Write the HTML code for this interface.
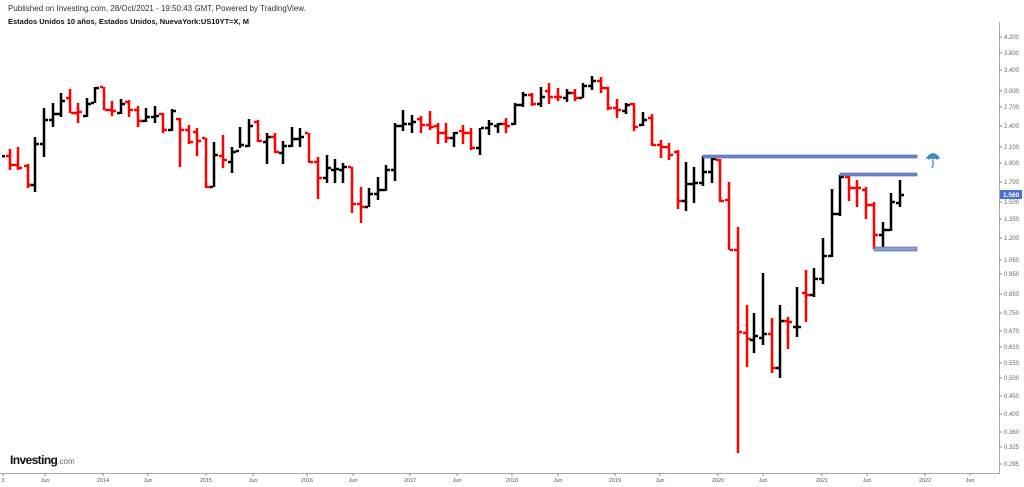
<!DOCTYPE html>
<html><head><meta charset="utf-8"><style>
html,body{margin:0;padding:0;background:#fff;}
body{width:1024px;height:487px;overflow:hidden;position:relative;font-family:"Liberation Sans",sans-serif;}
.h1{position:absolute;left:8px;top:4px;font-size:8px;color:#333;}
.h2{position:absolute;left:8px;top:17px;font-size:7.5px;color:#111;font-weight:bold;}
.logo{position:absolute;left:10px;top:453px;font-size:12px;font-weight:bold;color:#111;letter-spacing:-0.6px;}
.logo span{font-size:8px;font-weight:normal;color:#666;letter-spacing:0;}
svg{position:absolute;left:0;top:0;}
</style></head><body>
<div class="h1">Published on Investing.com, 28/Oct/2021 - 19:50:43 GMT, Powered by TradingView.</div>
<div class="h2">Estados Unidos 10 años, Estados Unidos, NuevaYork:US10YT=X, M</div>
<svg id="s" width="1024" height="487" xmlns="http://www.w3.org/2000/svg"></svg>
<div class="logo">Investing<span>.com</span></div>
<script>
var s=document.getElementById('s'),h='';
var B=[
[10,'R',149,170,156,165],[18,'R',147,170,165,168],[28,'R',164,188,166,185],[35,'B',137,192,185,144],
[44,'B',108,157,144,120],[53,'B',103,127,120,114],[61,'B',93,117,114,101],[70,'R',89,113,98,113],
[78,'R',103,123,113,112],[87,'B',98,117,116,104],[95,'B',87,103,103,88],[104,'R',87,110,87,110],
[112,'R',101,116,110,111],[121,'B',99,114,113,104],[129,'R',100,117,102,110],[138,'R',106,127,110,121],
[146,'B',108,122,121,117],[155,'B',106,123,117,116],[163,'R',113,133,114,130],[172,'B',109,131,130,111],
[180,'R',118,167,119,130],[189,'R',125,144,130,142],[197,'R',128,156,132,141],[206,'R',138,188,138,187],
[214,'B',142,187,187,155],[223,'R',135,168,156,160],[232,'B',147,173,162,152],[240,'B',127,148,151,145],
[249,'B',119,147,146,126],[258,'R',120,142,122,141],[267,'B',133,164,142,137],[275,'R',133,153,137,152],
[283,'B',141,164,153,146],[292,'B',127,147,146,139],[300,'B',128,147,139,137],[309,'R',133,163,133,162],
[318,'R',157,199,162,178],[327,'B',155,183,178,168],[335,'B',159,183,170,169],[343,'B',163,183,170,167],
[352,'R',167,213,167,204],[361,'R',187,223,204,207],[369,'B',188,207,207,194],[378,'B',177,200,194,190],
[386,'B',165,191,190,170],[395,'B',123,181,170,126],[403,'B',110,131,126,124],[412,'B',115,133,124,122],
[421,'R',116,133,119,125],[430,'R',111,130,125,127],[438,'R',123,144,126,133],[446,'R',123,143,133,138],
[454,'B',132,147,138,133],[463,'R',125,144,131,133],[471,'R',128,150,133,148],[480,'B',128,155,148,128],
[489,'B',120,135,128,124],[498,'B',123,133,126,124],[506,'R',118,133,124,126],[515,'B',103,125,124,105],
[523,'B',92,107,105,95],[532,'R',93,106,95,104],[541,'B',87,107,104,97],[549,'R',83,104,91,97],
[558,'R',88,101,97,97],[567,'B',89,102,98,93],[575,'R',89,101,93,98],[583,'B',83,98,98,86],
[592,'B',76,90,86,81],[601,'R',77,93,81,88],[608,'R',87,110,88,108],[617,'R',99,118,108,110],
[626,'B',103,114,111,105],[634,'R',103,131,104,127],[643,'B',112,126,125,120],[652,'R',114,146,118,145],
[661,'R',140,158,145,147],[669,'R',143,160,147,155],[678,'R',150,209,152,201],[686,'B',162,211,201,184],
[694,'B',167,203,184,183],[703,'B',156,186,183,172],[712,'B',157,183,172,159],[720,'R',159,202,160,201],
[729,'R',182,250,200,250],[738,'R',227,453,250,332],[747,'R',305,367,333,339],[754,'B',313,353,340,336],
[763,'B',273,345,338,334],[772,'R',318,373,334,368],[780,'B',305,378,368,321],[788,'R',317,349,321,322],
[797,'B',287,337,327,327],[806,'R',270,322,293,295],[814,'B',268,297,295,279],[823,'B',238,284,279,256],
[832,'B',189,257,256,214],[840,'B',175,216,214,177],[849,'R',176,201,177,188],[857,'R',180,207,188,188],
[866,'R',187,219,190,205],[874,'R',202,249,205,235],[883,'B',222,248,235,230],[891,'B',193,231,230,202],
[900,'B',180,207,203,195]];
h+='<rect x="2" y="155" width="3" height="2.5" fill="#000"/>';
B.forEach(function(b){var c=b[1]=='R'?'#ff0000':'#000';
h+='<rect x="'+(b[0]-1.25)+'" y="'+b[2]+'" width="2.5" height="'+(b[3]-b[2])+'" fill="'+c+'"/>';
h+='<rect x="'+(b[0]-4)+'" y="'+(b[4]-1.25)+'" width="3" height="2.5" fill="'+c+'"/>';
h+='<rect x="'+(b[0]+1)+'" y="'+(b[5]-1.25)+'" width="3" height="2.5" fill="'+c+'"/>';});
h+='<rect x="703" y="155" width="214" height="3" fill="#6f86c6" stroke="#4a64b0" stroke-width="0.6"/>';
h+='<rect x="840" y="173" width="77" height="3" fill="#6f86c6" stroke="#4a64b0" stroke-width="0.6"/>';
h+='<rect x="874" y="247" width="43" height="4" fill="#8a9fd6" stroke="#4a64b0" stroke-width="0.6"/>';
h+='<path d="M925 160 Q933 146 941 160 Q939 157 937 160 Q935 157 933 160 Q931 157 929 160 Q927 157 925 160Z" fill="#3d88c8"/>';
h+='<path d="M933 160 V166 Q933 168 931 167" stroke="#3d88c8" stroke-width="1.2" fill="none"/>';
h+='<line x1="999.5" y1="22" x2="999.5" y2="473" stroke="#aaa" stroke-width="1"/>';
h+='<line x1="0" y1="473.5" x2="1000" y2="473.5" stroke="#aaa" stroke-width="1"/>';
var Y=[['4.200',37],['3.800',53],['3.400',70],['3.000',91],['2.700',107],['2.400',126],['2.100',147],['1.900',163],['1.700',182],['1.500',202],['1.350',219],['1.200',238],['1.050',260],['0.950',274],['0.850',294],['0.750',313],['0.670',331],['0.610',347],['0.550',363],['0.500',378],['0.450',396],['0.400',414],['0.360',432],['0.325',447],['0.295',464]];
Y.forEach(function(t){h+='<line x1="999" y1="'+t[1]+'" x2="1002" y2="'+t[1]+'" stroke="#888"/><text x="1004" y="'+(t[1]+2)+'" font-size="6" fill="#666" font-family="Liberation Sans,sans-serif">'+t[0]+'</text>';});
h+='<rect x="1000" y="190" width="22" height="9" fill="#4a6fd6"/><text x="1003" y="197" font-size="6.5" fill="#fff" font-weight="bold" font-family="Liberation Sans,sans-serif">1.569</text>';
var X=[['3',3],['Jun',45],['2014',103],['Jun',148],['2015',206],['Jun',253],['2016',307],['Jun',353],['2017',410],['Jun',457],['2018',512],['Jun',558],['2019',615],['Jun',660],['2020',718],['Jun',763],['2021',822],['Jun',867],['2022',925],['Jun',970]];
X.forEach(function(t){h+='<line x1="'+t[1]+'" y1="473" x2="'+t[1]+'" y2="476" stroke="#888"/><text x="'+t[1]+'" y="482" font-size="5.5" fill="#555" text-anchor="middle" font-family="Liberation Sans,sans-serif">'+t[0]+'</text>';});
s.innerHTML=h;
</script>
</body></html>
